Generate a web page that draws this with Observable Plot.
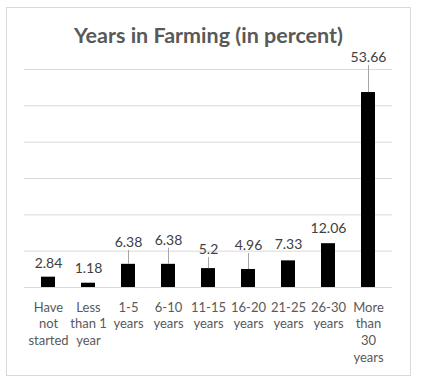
<!DOCTYPE html>
<html>
<head>
<meta charset="utf-8">
<script src="https://cdn.jsdelivr.net/npm/d3@7"></script>
<script src="https://cdn.jsdelivr.net/npm/@observablehq/plot@0.6"></script>
<style>
  html, body { margin: 0; padding: 0; background: #ffffff; }
  #wrap { position: relative; width: 423px; height: 381px; background: #fff; overflow: hidden; font-family: Lato, "Open Sans", sans-serif; }
  #frame { position: absolute; left: 6px; top: 7px; width: 405px; height: 369px; border: 1.5px solid #d9d9d9; box-sizing: border-box; }
  #title { position: absolute; left: 6px; width: 405px; top: 19px; text-align: center; font-size: 21.5px; font-weight: bold; color: #595959; line-height: 32px; }
  #chart { position: absolute; left: 0; top: 0; }
</style>
</head>
<body>
<div id="wrap">
  <div id="frame"></div>
  <div id="title">Years in Farming (in percent)</div>
  <div id="chart"></div>
</div>
<script>
const categories = ["Have not started", "Less than 1 year", "1-5 years", "6-10 years", "11-15 years", "16-20 years", "21-25 years", "26-30 years", "More than 30 years"];
const tickLabels = ["Have\nnot\nstarted", "Less\nthan 1\nyear", "1-5\nyears", "6-10\nyears", "11-15\nyears", "16-20\nyears", "21-25\nyears", "26-30\nyears", "More\nthan\n30\nyears"];
const values = [2.84, 1.18, 6.38, 6.38, 5.2, 4.96, 7.33, 12.06, 53.66];
const valueLabels = ["2.84", "1.18", "6.38", "6.38", "5.2", "4.96", "7.33", "12.06", "53.66"];
const yTicks = [0, 10, 20, 30, 40, 50, 60];

// layout (pixels): how far each data label sits above its bar, and which have leader lines
const labelLift = [14, 15, 22, 24, 19, 24, 16, 15, 35];
const hasLeader = [false, false, true, true, true, true, false, false, true];

const W = 423, H = 381, mTop = 69, mBottom = 94, mLeft = 24, mRight = 31;
const ppu = (H - mTop - mBottom) / (yTicks[yTicks.length - 1] - yTicks[0]);

const data = categories.map((c, i) => ({cat: c, value: values[i], label: valueLabels[i], tick: tickLabels[i], i}));
const tickMap = new Map(data.map(d => [d.cat, d.tick]));

const labelMarks = data.map(d => Plot.text([d], {
  x: "cat", y: "value", text: "label", dy: -labelLift[d.i],
  fill: "#404040", fontSize: 14
}));
const leaderMarks = data.filter(d => hasLeader[d.i]).map(d => Plot.ruleX([d], {
  x: "cat", y1: "value", y2: dd => dd.value + (labelLift[dd.i] - 8) / ppu,
  stroke: "#a6a6a6", strokeWidth: 1
}));

const chart = Plot.plot({
  width: W, height: H,
  marginTop: mTop, marginBottom: mBottom, marginLeft: mLeft, marginRight: mRight,
  style: {background: "transparent", fontFamily: "Lato, 'Open Sans', sans-serif"},
  x: {domain: categories, paddingInner: 0.66, paddingOuter: 0.33, label: null},
  y: {domain: [0, 60], axis: null},
  marks: [
    Plot.gridY(yTicks, {stroke: "#d9d9d9", strokeOpacity: 1}),
    Plot.barY(data, {x: "cat", y: "value", fill: "#000000"}),
    ...leaderMarks,
    ...labelMarks,
    Plot.axisX({tickSize: 0, tickPadding: 12, fontSize: 13, lineHeight: 1.3, fill: "#595959", label: null, tickFormat: c => tickMap.get(c)})
  ]
});
document.getElementById("chart").appendChild(chart);
</script>
</body>
</html>
